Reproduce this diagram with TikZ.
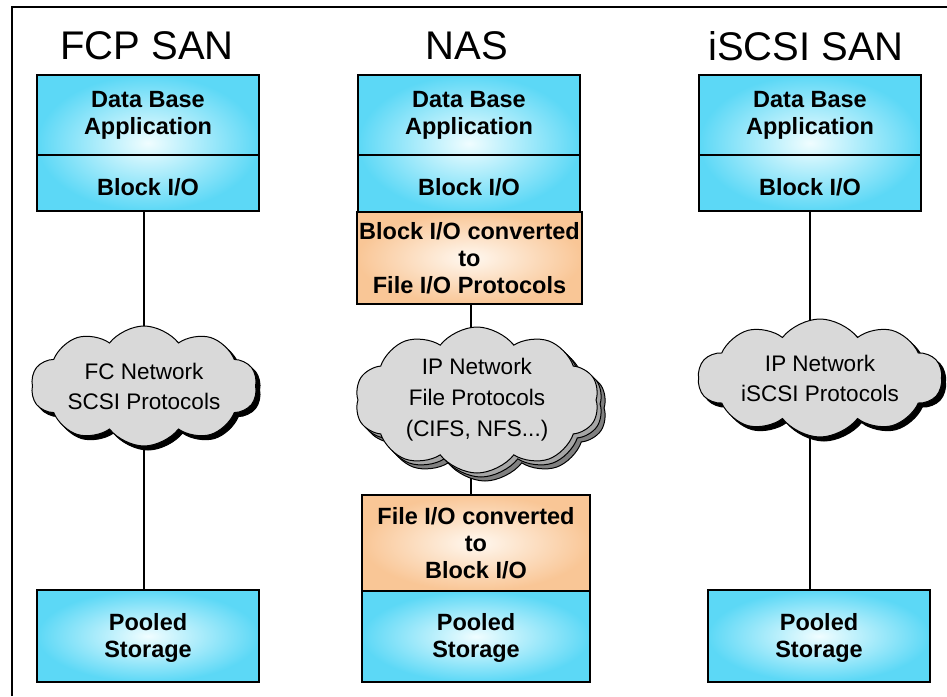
\documentclass[tikz,border=0pt]{standalone}
\usepackage{fontspec}
\setmainfont{Liberation Sans}
\usetikzlibrary{shapes.symbols,shadows,backgrounds}
\definecolor{cyanedge}{RGB}{92,216,246}
\definecolor{cyancore}{RGB}{240,253,255}
\definecolor{peachedge}{RGB}{249,198,150}
\definecolor{peachcore}{RGB}{255,248,240}
\definecolor{cloudgray}{RGB}{217,217,217}
\begin{document}
\begin{tikzpicture}[x=1pt,y=-1pt,
  bluebox/.style={draw=black, line width=1.2pt, inner color=cyancore, outer color=cyanedge, inner sep=0pt},
  peachbox/.style={draw=black, line width=1.2pt, inner color=peachcore, outer color=peachedge, inner sep=0pt,
    font=\bfseries\fontsize{23.5}{27}\selectfont, align=center},
  boxtext/.style={font=\bfseries\fontsize{23.5}{27}\selectfont, align=center, inner sep=0pt},
  coltitle/.style={font=\fontsize{40}{44}\selectfont, inner sep=0pt},
  net/.style={cloud, cloud puffs=10, cloud puff arc=105, cloud ignores aspect, draw=black, line width=1pt, fill=cloudgray,
    font=\fontsize{22.5}{30}\selectfont, align=center, inner sep=0pt},
  link/.style={line width=1.2pt}]
\useasboundingbox (0,0) rectangle (947,696);
% frame
\draw[line width=1.2pt] (12,696) -- (12,7) -- (947,7);

% column titles
\node[coltitle] (t1) at (147,46) {FCP SAN};
\node[coltitle] (t2) at (467,46) {NAS};
\node[coltitle] (t3) at (806,46) {iSCSI SAN};

% ---- FCP SAN ----
\node[bluebox, minimum width=222pt, minimum height=136pt] (host1) at (148,143) {};
\draw[line width=1.2pt] (host1.west |- 0,155) -- (host1.east |- 0,155);
\node[boxtext] (db1) at (148,115) {Data Base\\Application};
\node[boxtext] (bio1) at (148,187) {Block I/O};
\node[net, minimum width=226pt, minimum height=120pt,
  copy shadow={shadow xshift=4pt, shadow yshift=-4pt, fill=black, draw=black}]
  (net1) at (144,386) {FC Network\\SCSI Protocols};
\node[bluebox, minimum width=222pt, minimum height=92pt] (st1) at (148,636) {};
\node[boxtext] (stt1) at (148,638) {Pooled\\Storage};

% ---- NAS ----
\node[bluebox, minimum width=222pt, minimum height=137pt] (host2) at (469,143.5) {};
\draw[line width=1.2pt] (host2.west |- 0,155) -- (host2.east |- 0,155);
\node[boxtext] (db2) at (469,115) {Data Base\\Application};
\node[boxtext] (bio2) at (469,187) {Block I/O};
\node[peachbox, minimum width=225pt, minimum height=92pt] (conv1) at (469.5,258)
  {Block I/O converted\\to\\File I/O Protocols};
\node[net, minimum width=244pt, minimum height=146pt, font=\fontsize{22.5}{31}\selectfont,
  copy shadow={shadow xshift=8pt, shadow yshift=-8pt, fill=gray, draw=black},
  copy shadow={shadow xshift=4pt, shadow yshift=-4pt, fill=gray!70, draw=black}]
  (net2) at (477,400) {IP Network\\File Protocols\\(CIFS, NFS...)};
\node[peachbox, minimum width=228pt, minimum height=96pt] (conv2) at (476,543)
  {File I/O converted\\to\\Block I/O};
\node[bluebox, minimum width=228pt, minimum height=91pt] (st2) at (476,636.5) {};
\node[boxtext] (stt2) at (476,638) {Pooled\\Storage};

% ---- iSCSI SAN ----
\node[bluebox, minimum width=222pt, minimum height=136pt] (host3) at (810,143) {};
\draw[line width=1.2pt] (host3.west |- 0,155) -- (host3.east |- 0,155);
\node[boxtext] (db3) at (810,115) {Data Base\\Application};
\node[boxtext] (bio3) at (810,187) {Block I/O};
\node[net, minimum width=244pt, minimum height=118pt,
  copy shadow={shadow xshift=4pt, shadow yshift=-4pt, fill=black, draw=black}]
  (net3) at (820,378) {IP Network\\iSCSI Protocols};
\node[bluebox, minimum width=222pt, minimum height=92pt] (st3) at (819,636) {};
\node[boxtext] (stt3) at (819,638) {Pooled\\Storage};

% connectors, behind the boxes and clouds
\begin{scope}[on background layer]
\draw[link] (host1.south -| net1) -- (st1.north -| net1);
\draw[link] ([xshift=1.5pt]conv1.south) -- ([xshift=1.5pt]conv1.south |- conv2.north);
\draw[link] (host3.south) -- (host3.south |- st3.north);
\end{scope}
\end{tikzpicture}
\end{document}
